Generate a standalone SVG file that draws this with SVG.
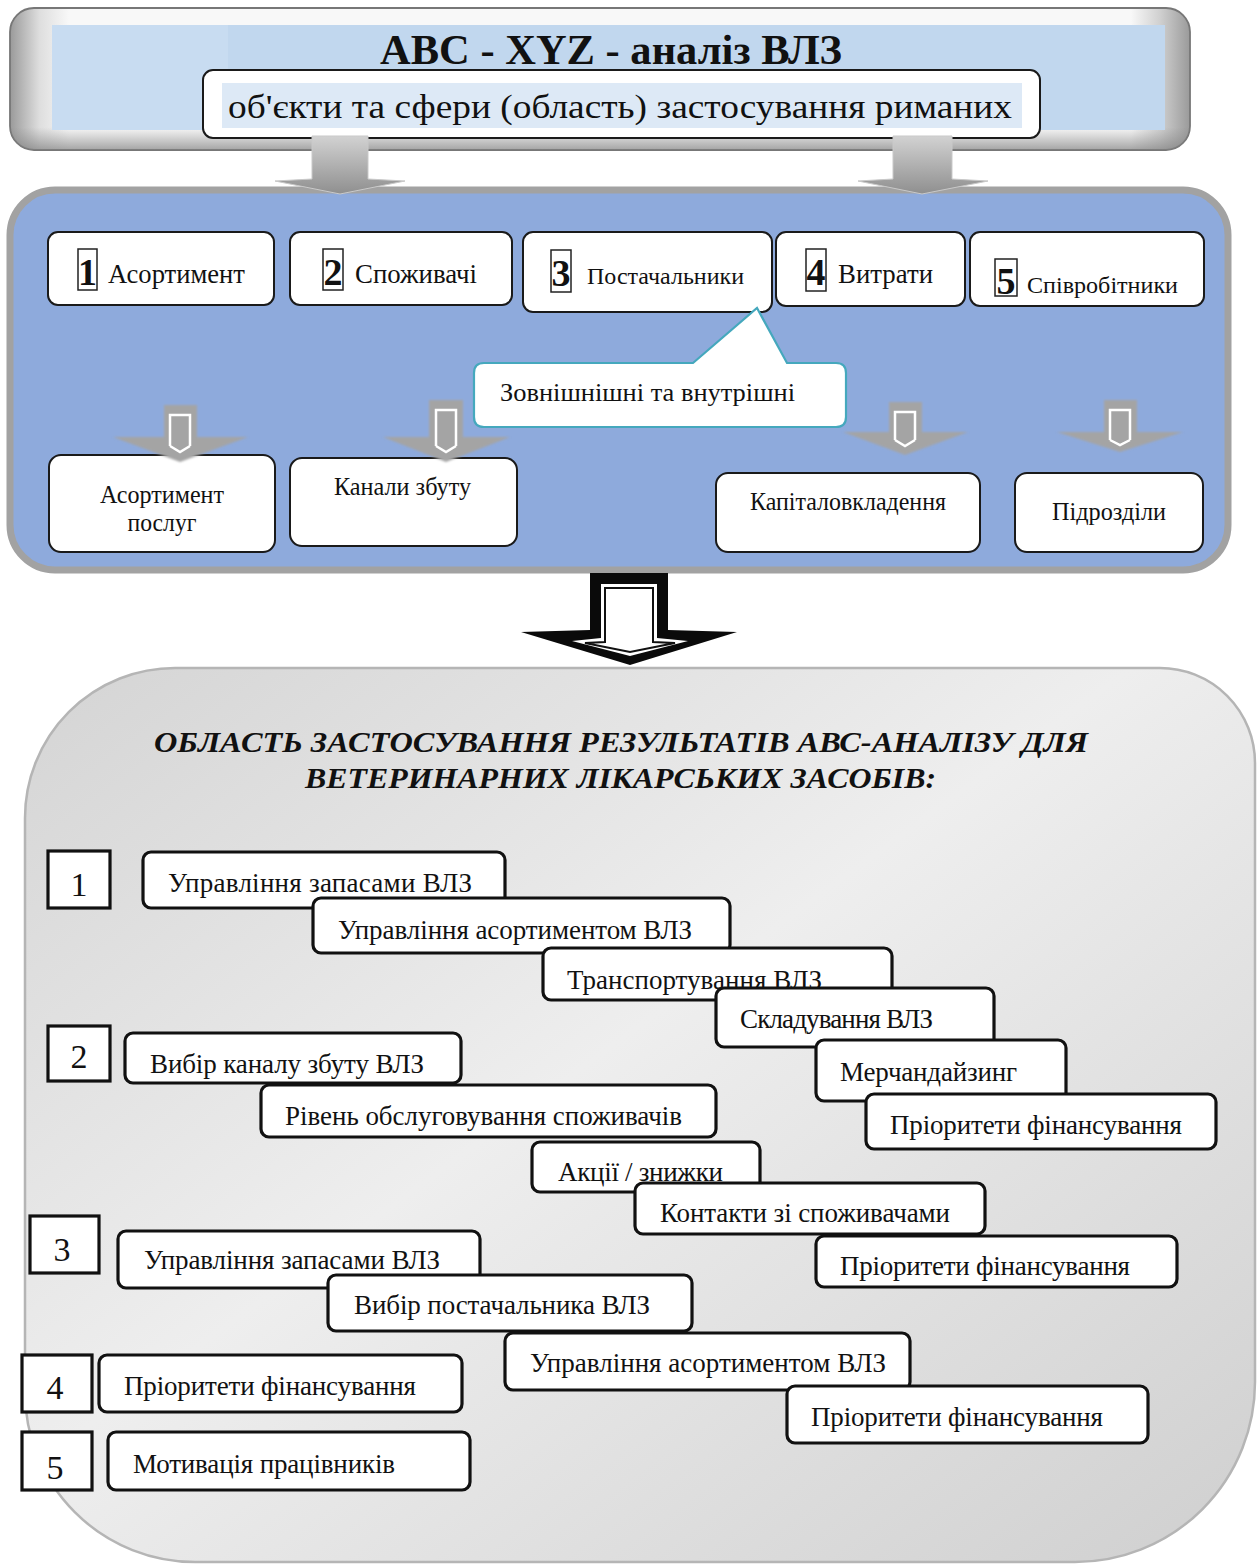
<svg xmlns="http://www.w3.org/2000/svg" width="1259" height="1566" viewBox="0 0 1259 1566">
<defs>
<style>
.t{font-family:"Liberation Serif","Times New Roman",serif;fill:#111}
.b{font-weight:bold}
.box{fill:#fff;stroke:#1a1a1a;stroke-width:2}
.item{fill:#fff;stroke:#111;stroke-width:3.2}
.num{fill:#fff;stroke:#111;stroke-width:3.2}
.nb{fill:#fff;stroke:#222;stroke-width:1.5}
.li{font-size:27px;lengthAdjust:spacingAndGlyphs}
.sarrow{fill:#a4a4a4;filter:url(#soft)}
.inner{fill:none;stroke:#fff;stroke-width:2.5}
</style>
<linearGradient id="bevel" x1="0" y1="0" x2="1" y2="0">
<stop offset="0" stop-color="#9a9a9a"/>
<stop offset="0.025" stop-color="#dedede"/>
<stop offset="0.05" stop-color="#f8f8f8"/>
<stop offset="0.95" stop-color="#f8f8f8"/>
<stop offset="0.975" stop-color="#cfcfcf"/>
<stop offset="1" stop-color="#9a9a9a"/>
</linearGradient>
<linearGradient id="bevelV" x1="0" y1="0" x2="0" y2="1">
<stop offset="0" stop-color="#888" stop-opacity="0"/>
<stop offset="0.84" stop-color="#888" stop-opacity="0"/>
<stop offset="1" stop-color="#808080" stop-opacity="0.7"/>
</linearGradient>
<linearGradient id="panelGrad" x1="0" y1="0" x2="1" y2="1">
<stop offset="0" stop-color="#d4d4d4"/>
<stop offset="0.45" stop-color="#eeeeee"/>
<stop offset="1" stop-color="#cfcfcf"/>
</linearGradient>
<linearGradient id="arrowGrad" x1="0" y1="0" x2="0" y2="1">
<stop offset="0" stop-color="#d2d2d2"/>
<stop offset="1" stop-color="#8f8f8f"/>
</linearGradient>
<filter id="soft" x="-10%" y="-10%" width="120%" height="120%">
<feGaussianBlur stdDeviation="1.3"/>
</filter>
</defs>

<!-- Top frame -->
<g id="header">
<rect x="10" y="8" width="1180" height="142" rx="24" fill="url(#bevel)" stroke="#777" stroke-width="1.8"/>
<rect x="10" y="8" width="1180" height="142" rx="24" fill="url(#bevelV)"/>
<rect x="52" y="25" width="1113" height="105" fill="#c1d7ee"/>
<rect x="52" y="25" width="176" height="105" fill="#c8dcf1"/>
<text class="t b" x="611" y="64" font-size="43" text-anchor="middle" textLength="462" lengthAdjust="spacingAndGlyphs">ABC - XYZ - аналіз ВЛЗ</text>
</g>
<g id="subtitle">
<rect x="203" y="70" width="837" height="68" rx="10" class="box"/>
<rect x="222" y="83" width="800" height="45" fill="#dde9f6"/>
<text class="t" x="228" y="118" font-size="34" textLength="784" lengthAdjust="spacingAndGlyphs">об'єкти та сфери (область) застосування риманих</text>
</g>

<!-- Blue panel -->
<g id="blue-panel">
<rect x="10" y="190" width="1218" height="380" rx="45" fill="#8eaadc" stroke="#a2a2a2" stroke-width="7"/>
</g>

<g id="n1">
<rect x="48" y="232" width="226" height="73" rx="10" class="box"/>
<rect x="78" y="249" width="19" height="41" class="nb"/>
<text class="t b" x="87.5" y="285" font-size="38" text-anchor="middle">1</text>
<text class="t" x="108" y="283" font-size="27" textLength="137" lengthAdjust="spacingAndGlyphs">Асортимент</text>
</g>
<g id="n2">
<rect x="290" y="232" width="222" height="73" rx="10" class="box"/>
<rect x="323" y="249" width="20" height="41" class="nb"/>
<text class="t b" x="333" y="285" font-size="38" text-anchor="middle">2</text>
<text class="t" x="355" y="283" font-size="27" textLength="122" lengthAdjust="spacingAndGlyphs">Споживачі</text>
</g>
<g id="n3">
<rect x="523" y="232" width="249" height="80" rx="10" class="box"/>
<rect x="551" y="250" width="20" height="42" class="nb"/>
<text class="t b" x="561" y="286" font-size="38" text-anchor="middle">3</text>
<text class="t" x="587" y="284" font-size="24" textLength="157" lengthAdjust="spacingAndGlyphs">Постачальники</text>
</g>
<g id="n4">
<rect x="776" y="232" width="189" height="74" rx="10" class="box"/>
<rect x="806" y="249" width="20" height="42" class="nb"/>
<text class="t b" x="816" y="285" font-size="38" text-anchor="middle">4</text>
<text class="t" x="838" y="283" font-size="27" textLength="95" lengthAdjust="spacingAndGlyphs">Витрати</text>
</g>
<g id="n5">
<rect x="970" y="232" width="234" height="74" rx="10" class="box"/>
<rect x="995" y="259" width="22" height="37" class="nb"/>
<text class="t b" x="1006" y="294" font-size="38" text-anchor="middle">5</text>
<text class="t" x="1027" y="293" font-size="23" textLength="151" lengthAdjust="spacingAndGlyphs">Співробітники</text>
</g>

<g id="callout">
<path d="M484,363 H693 L757,308 L787,363 H836 Q846,363 846,373 V417 Q846,427 836,427 H484 Q474,427 474,417 V373 Q474,363 484,363 Z" fill="#fff" stroke="#45a8bd" stroke-width="2.2"/>
<text class="t" x="500" y="401" font-size="26" textLength="295" lengthAdjust="spacingAndGlyphs">Зовнішнішні та внутрішні</text>
</g>

<g id="s1">
<rect x="49" y="455" width="226" height="97" rx="12" class="box"/>
<text class="t" x="162" y="503" font-size="25" text-anchor="middle" textLength="124" lengthAdjust="spacingAndGlyphs">Асортимент</text>
<text class="t" x="162" y="531" font-size="25" text-anchor="middle" textLength="69" lengthAdjust="spacingAndGlyphs">послуг</text>
</g>
<g id="s2">
<rect x="290" y="458" width="227" height="88" rx="12" class="box"/>
<text class="t" x="334" y="495" font-size="25" textLength="137" lengthAdjust="spacingAndGlyphs">Канали збуту</text>
</g>
<g id="s4">
<rect x="716" y="473" width="264" height="79" rx="12" class="box"/>
<text class="t" x="750" y="510" font-size="25" textLength="196" lengthAdjust="spacingAndGlyphs">Капіталовкладення</text>
</g>
<g id="s5">
<rect x="1015" y="473" width="188" height="79" rx="12" class="box"/>
<text class="t" x="1052" y="520" font-size="25" textLength="114" lengthAdjust="spacingAndGlyphs">Підрозділи</text>
</g>

<!-- Bottom panel -->
<g id="results-panel">
<path d="M175,668 H1160 A95,95 0 0 1 1255,763 V1382 A180,180 0 0 1 1075,1562 H195 A170,170 0 0 1 25,1392 V818 A150,150 0 0 1 175,668 Z" fill="url(#panelGrad)" stroke="#b5b5b5" stroke-width="2.5"/>
<text class="t b" x="154" y="752" font-size="30" font-style="italic" textLength="934" lengthAdjust="spacingAndGlyphs">ОБЛАСТЬ ЗАСТОСУВАННЯ РЕЗУЛЬТАТІВ АВС-АНАЛІЗУ ДЛЯ</text>
<text class="t b" x="305" y="788" font-size="30" font-style="italic" textLength="631" lengthAdjust="spacingAndGlyphs">ВЕТЕРИНАРНИХ ЛІКАРСЬКИХ ЗАСОБІВ:</text>
</g>

<g id="g1-num"><rect x="48" y="851" width="62" height="57" class="num"/><text class="t" x="79" y="896" font-size="34" text-anchor="middle">1</text></g>
<g id="g1a"><rect x="143" y="852" width="362" height="56" rx="8" class="item"/><text class="t li" x="168" y="892" textLength="304">Управління запасами  ВЛЗ</text></g>
<g id="g1b"><rect x="313" y="898" width="417" height="55" rx="8" class="item"/><text class="t li" x="338" y="939" textLength="354">Управління асортиментом ВЛЗ</text></g>
<g id="g1c"><rect x="543" y="948" width="349" height="52" rx="8" class="item"/><text class="t li" x="567" y="989" textLength="255">Транспортування ВЛЗ</text></g>
<g id="g1d"><rect x="716" y="988" width="278" height="59" rx="8" class="item"/><text class="t li" x="740" y="1028" textLength="193">Складування ВЛЗ</text></g>
<g id="g1e"><rect x="816" y="1040" width="250" height="61" rx="8" class="item"/><text class="t li" x="840" y="1081" textLength="177">Мерчандайзинг</text></g>
<g id="g1f"><rect x="866" y="1094" width="350" height="55" rx="8" class="item"/><text class="t li" x="890" y="1134" textLength="292">Пріоритети фінансування</text></g>

<g id="g2-num"><rect x="48" y="1026" width="62" height="55" class="num"/><text class="t" x="79" y="1068" font-size="34" text-anchor="middle">2</text></g>
<g id="g2a"><rect x="125" y="1033" width="336" height="50" rx="8" class="item"/><text class="t li" x="150" y="1073" textLength="274">Вибір каналу збуту ВЛЗ</text></g>
<g id="g2b"><rect x="261" y="1085" width="455" height="52" rx="8" class="item"/><text class="t li" x="285" y="1125" textLength="397">Рівень обслуговування споживачів</text></g>
<g id="g2c"><rect x="532" y="1142" width="228" height="50" rx="8" class="item"/><text class="t li" x="558" y="1181" textLength="165">Акції / знижки</text></g>
<g id="g2d"><rect x="635" y="1183" width="350" height="51" rx="8" class="item"/><text class="t li" x="660" y="1222" textLength="290">Контакти зі споживачами</text></g>
<g id="g2e"><rect x="816" y="1236" width="361" height="51" rx="8" class="item"/><text class="t li" x="840" y="1275" textLength="290">Пріоритети фінансування</text></g>

<g id="g3-num"><rect x="30" y="1216" width="69" height="57" class="num"/><text class="t" x="62" y="1261" font-size="34" text-anchor="middle">3</text></g>
<g id="g3a"><rect x="118" y="1231" width="362" height="57" rx="8" class="item"/><text class="t li" x="144" y="1269" textLength="296">Управління запасами ВЛЗ</text></g>
<g id="g3b"><rect x="328" y="1275" width="364" height="56" rx="8" class="item"/><text class="t li" x="354" y="1314" textLength="296">Вибір постачальника ВЛЗ</text></g>
<g id="g3c"><rect x="505" y="1333" width="405" height="57" rx="8" class="item"/><text class="t li" x="530" y="1372" textLength="356">Управління асортиментом ВЛЗ</text></g>
<g id="g3d"><rect x="787" y="1386" width="361" height="57" rx="8" class="item"/><text class="t li" x="811" y="1426" textLength="292">Пріоритети фінансування</text></g>

<g id="g4-num"><rect x="22" y="1355" width="70" height="57" class="num"/><text class="t" x="55" y="1399" font-size="34" text-anchor="middle">4</text></g>
<g id="g4a"><rect x="99" y="1355" width="363" height="57" rx="8" class="item"/><text class="t li" x="124" y="1395" textLength="292">Пріоритети фінансування</text></g>

<g id="g5-num"><rect x="22" y="1432" width="70" height="58" class="num"/><text class="t" x="55" y="1479" font-size="34" text-anchor="middle">5</text></g>
<g id="g5a"><rect x="108" y="1432" width="362" height="58" rx="8" class="item"/><text class="t li" x="133" y="1473" textLength="262">Мотивація працівників</text></g>

<!-- Connectors -->
<g id="connectors">
<polygon points="312,136 368,136 368,179 405,181 340,194 275,181 312,179" fill="url(#arrowGrad)" stroke="#c9c9c9" stroke-width="1"/>
<polygon points="893,136 952,136 952,179 988,181 922,194 858,181 893,179" fill="url(#arrowGrad)" stroke="#c9c9c9" stroke-width="1"/>

<polygon class="sarrow" points="164,405 197,405 197,437 248,437 180,462 113,437 164,437"/>
<path class="inner" d="M170,446 V415 H190 V446 M170,446 L180,452 L190,446"/>
<polygon class="sarrow" points="429,400 463,400 463,437 510,437 446,462 383,437 429,437"/>
<path class="inner" d="M436,446 V410 H456 V446 M436,446 L446,452 L456,446"/>
<polygon class="sarrow" points="889,402 922,402 922,432 968,432 905,455 843,432 889,432"/>
<path class="inner" d="M895,440 V412 H915 V440 M895,440 L905,446 L915,440"/>
<polygon class="sarrow" points="1104,400 1137,400 1137,432 1183,432 1120,452 1057,432 1104,432"/>
<path class="inner" d="M1110,440 V410 H1130 V440 M1110,440 L1120,445 L1130,440"/>

<polygon points="590,573 668,573 668,630 737,632 630,665 521,632 590,630" fill="#0a0a0a"/>
<polygon points="601,584 657,584 657,638 688,641 630,656 572,641 601,638" fill="#fff"/>
<polygon points="605,588 653,588 653,642 675,643 630,652 585,643 605,642" fill="#fff" stroke="#111" stroke-width="2"/>
</g>
</svg>
